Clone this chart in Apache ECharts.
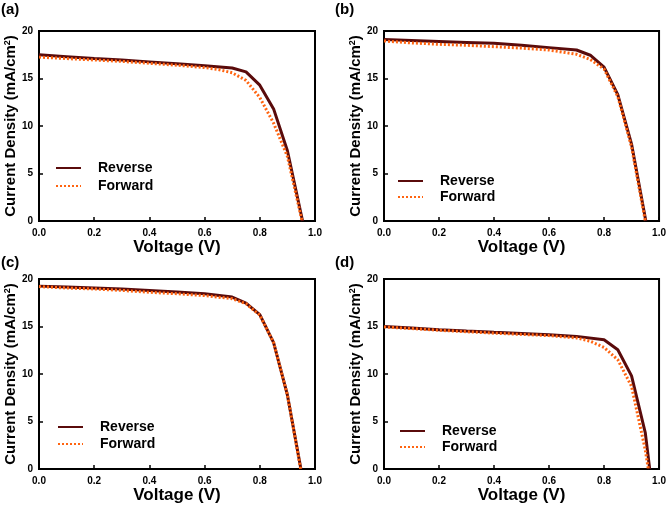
<!DOCTYPE html>
<html>
<head>
<meta charset="utf-8">
<script src="https://cdn.jsdelivr.net/npm/echarts@6/dist/echarts.min.js"></script>
<style>html,body{margin:0;padding:0;background:#fff}#c{width:669px;height:507px}</style>
</head>
<body>
<div id="c"></div>
<script>
// Panel (a)
const aRevV = [0,0.1,0.2,0.3,0.4,0.5,0.6,0.7,0.75,0.8,0.85,0.9,0.955];
const aRevJ = [17.5,17.3,17.1,16.95,16.75,16.55,16.35,16.1,15.7,14.3,11.8,7.4,0];
const aFwdV = [0,0.1,0.2,0.3,0.4,0.5,0.6,0.65,0.7,0.75,0.8,0.85,0.9,0.953];
const aFwdJ = [17.25,17.1,16.95,16.8,16.6,16.4,16.15,15.95,15.6,14.8,13.0,10.3,6.8,0];
// Panel (b)
const bRevV = [0,0.1,0.2,0.3,0.4,0.5,0.6,0.7,0.75,0.8,0.85,0.9,0.952];
const bRevJ = [19.1,19.0,18.9,18.8,18.7,18.5,18.25,18.0,17.45,16.2,13.3,8.1,0];
const bFwdV = [0,0.1,0.2,0.3,0.4,0.5,0.6,0.7,0.75,0.8,0.85,0.9,0.95];
const bFwdJ = [18.95,18.75,18.6,18.5,18.35,18.2,18.0,17.55,17.0,16.0,13.1,7.8,0];
// Panel (c)
const cRevV = [0,0.1,0.2,0.3,0.4,0.5,0.6,0.7,0.75,0.8,0.85,0.9,0.949];
const cRevJ = [19.25,19.15,19.05,18.95,18.8,18.63,18.45,18.1,17.47,16.25,13.3,7.8,0];
const cFwdV = [0,0.1,0.2,0.3,0.4,0.5,0.6,0.7,0.75,0.8,0.85,0.9,0.948];
const cFwdJ = [19.2,19.05,18.95,18.8,18.6,18.45,18.25,17.93,17.4,16.2,13.3,7.8,0];
// Panel (d)
const dRevV = [0,0.1,0.2,0.3,0.4,0.5,0.6,0.7,0.8,0.85,0.9,0.95,0.966];
const dRevJ = [15.0,14.85,14.67,14.52,14.39,14.27,14.14,13.96,13.6,12.56,9.8,3.8,0];
const dFwdV = [0,0.1,0.2,0.3,0.4,0.5,0.6,0.7,0.75,0.8,0.85,0.9,0.95,0.961];
const dFwdJ = [14.95,14.78,14.6,14.45,14.3,14.17,14.04,13.8,13.45,12.8,11.5,8.7,2.0,0];

const panelLabels = ['(a)','(b)','(c)','(d)'];
const seriesNames = ['Reverse','Forward'];
const xName = 'Voltage (V)';
const yName = 'Current Density (mA/cm{sup|2})';

const pairs = (xs, ys) => xs.map((x, i) => [x, ys[i]]);
const panels = [
  {rev: pairs(aRevV, aRevJ), fwd: pairs(aFwdV, aFwdJ)},
  {rev: pairs(bRevV, bRevJ), fwd: pairs(bFwdV, bFwdJ)},
  {rev: pairs(cRevV, cRevJ), fwd: pairs(cFwdV, cFwdJ)},
  {rev: pairs(dRevV, dRevJ), fwd: pairs(dFwdV, dFwdJ)}
];

const FONT = '"Liberation Sans", Arial, sans-serif';
const gridPos = [
  {left: 39, top: 31}, {left: 384, top: 31},
  {left: 39, top: 279}, {left: 384, top: 279}
];
const labelPos = [{left: 1, top: 2}, {left: 335, top: 2}, {left: 1, top: 255}, {left: 335, top: 255}];
const legendPos = [
  {left: 55, top: 161, gap: 4}, {left: 397, top: 174, gap: 2},
  {left: 57, top: 420, gap: 3}, {left: 399, top: 424, gap: 2}
];

const option = {
  animation: false,
  backgroundColor: '#fff',
  title: panelLabels.map((t, i) => ({
    text: t, left: labelPos[i].left, top: labelPos[i].top, padding: 0,
    textStyle: {fontFamily: FONT, fontWeight: 'bold', fontSize: 15, color: '#000'}
  })),
  grid: gridPos.map(g => ({
    left: g.left, top: g.top, width: 276, height: 190,
    show: true, borderColor: '#000', borderWidth: 2, backgroundColor: 'transparent'
  })),
  xAxis: gridPos.map((g, i) => ({
    type: 'value', gridIndex: i, min: 0, max: 1, interval: 0.2,
    name: xName, nameLocation: 'middle', nameGap: 17,
    nameTextStyle: {fontFamily: FONT, fontWeight: 'bold', fontSize: 17, color: '#000'},
    axisLine: {show: true, onZero: false, lineStyle: {color: '#000', width: 2}},
    axisTick: {show: true, inside: true, length: 4, lineStyle: {color: '#000', width: 1.5}},
    axisLabel: {fontFamily: FONT, fontWeight: 'bold', fontSize: 10, color: '#000', margin: 7,
      formatter: v => v.toFixed(1)},
    splitLine: {show: false}
  })),
  yAxis: gridPos.map((g, i) => ({
    type: 'value', gridIndex: i, min: 0, max: 20, interval: 5,
    name: yName, nameLocation: 'middle', nameGap: 21, nameRotate: 90,
    nameTextStyle: {fontFamily: FONT, fontWeight: 'bold', fontSize: 15, color: '#000',
      rich: {sup: {fontFamily: FONT, fontWeight: 'bold', fontSize: 9, color: '#000', verticalAlign: 'top', padding: [0,0,6,0]}}},
    axisLine: {show: true, onZero: false, lineStyle: {color: '#000', width: 2}},
    axisTick: {show: true, inside: true, length: 4, lineStyle: {color: '#000', width: 1.5}},
    axisLabel: {fontFamily: FONT, fontWeight: 'bold', fontSize: 10, color: '#000', margin: 6},
    splitLine: {show: false}
  })),
  legend: legendPos.map((l, i) => ({
    orient: 'vertical', left: l.left, top: l.top, itemWidth: 25, itemHeight: 14, itemGap: l.gap,
    padding: 0, selectedMode: false,
    data: seriesNames,
    itemStyle: {opacity: 0, borderWidth: 0},
    textStyle: {fontFamily: FONT, fontWeight: 'bold', fontSize: 14, color: '#000', padding: [0,0,0,12]}
  })),
  series: []
};

panels.forEach((p, i) => {
  option.series.push({
    name: seriesNames[0], type: 'line', xAxisIndex: i, yAxisIndex: i, data: p.rev,
    showSymbol: false, symbol: 'none', smooth: false,
    lineStyle: {color: '#5a0b0b', width: 3}, itemStyle: {color: '#5a0b0b'}
  });
  option.series.push({
    name: seriesNames[1], type: 'line', xAxisIndex: i, yAxisIndex: i, data: p.fwd,
    showSymbol: false, symbol: 'none', smooth: false,
    lineStyle: {color: '#ff6410', width: 3, type: [2, 2]}, itemStyle: {color: '#ff6410'}
  });
});

const chart = echarts.init(document.getElementById('c'), null, {renderer: 'canvas'});
chart.setOption(option);
</script>
</body>
</html>
